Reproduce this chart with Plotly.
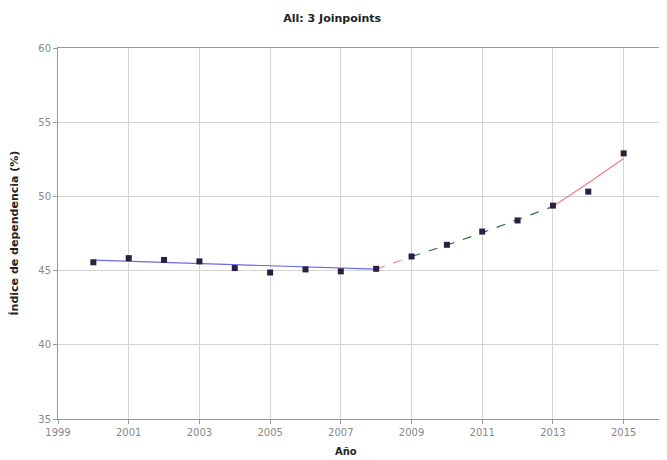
import plotly.graph_objects as go

years = list(range(2000, 2016))
observed = [45.56, 45.84, 45.72, 45.62, 45.17, 44.87, 45.08, 44.95, 45.12,
            45.95, 46.74, 47.63, 48.38, 49.38, 50.32, 52.9]

seg1_years = [2000, 2008]
seg1_fit = [45.7, 45.1]
seg2_years = [2008, 2009]
seg2_fit = [45.1, 45.95]
seg3_years = [2009, 2010, 2011, 2012, 2013]
seg3_fit = [45.95, 46.72, 47.55, 48.42, 49.32]
seg4_years = [2013, 2014, 2015]
seg4_fit = [49.32, 50.9, 52.55]

x_ticks = [1999, 2001, 2003, 2005, 2007, 2009, 2011, 2013, 2015]
y_ticks = [35, 40, 45, 50, 55, 60]

title_text = "All: 3 Joinpoints"
x_title = "Año"
y_title = "Índice de dependencia (%)"

fig = go.Figure()
fig.add_trace(go.Scatter(x=seg1_years, y=seg1_fit, mode="lines",
                         line=dict(color="#6a6ae8", width=1.2), showlegend=False))
fig.add_trace(go.Scatter(x=seg2_years, y=seg2_fit, mode="lines",
                         line=dict(color="#f08a9a", width=1.2, dash="dash"), showlegend=False))
fig.add_trace(go.Scatter(x=seg3_years, y=seg3_fit, mode="lines",
                         line=dict(color="#2e6b3a", width=1.2, dash="dash"), showlegend=False))
fig.add_trace(go.Scatter(x=seg4_years, y=seg4_fit, mode="lines",
                         line=dict(color="#f07a8a", width=1.2), showlegend=False))
fig.add_trace(go.Scatter(x=years, y=observed, mode="markers",
                         marker=dict(symbol="square", size=6, color="#2a1f3d"),
                         showlegend=False))

fig.update_layout(
    width=659, height=452,
    margin=dict(l=50, r=8, t=40, b=41, autoexpand=False),
    paper_bgcolor="white", plot_bgcolor="white",
    title=dict(text="<b>" + title_text + "</b>", x=0.492, xanchor="center",
               y=1 - 10 / 452, yanchor="middle",
               font=dict(family="DejaVu Sans", size=11, color="#222")),
    font=dict(family="DejaVu Sans", size=10, color="#666"),
    annotations=[
        dict(text="<b>" + x_title + "</b>", xref="paper", yref="paper",
             x=0.48, y=-32 / 371, xanchor="center", yanchor="middle", showarrow=False,
             font=dict(family="DejaVu Sans", size=10, color="#222")),
        dict(text="<b>" + y_title + "</b>", xref="paper", yref="paper",
             x=-44 / 601, y=0.5, xanchor="center", yanchor="middle", showarrow=False,
             textangle=-90,
             font=dict(family="DejaVu Sans", size=11, color="#222")),
    ],
)
fig.update_xaxes(range=[1999, 2016], tickvals=x_ticks, ticks="outside", ticklen=4,
                 tickcolor="#999", showgrid=True, gridcolor="#d4d4d4", gridwidth=1,
                 showline=True, linecolor="#999", linewidth=1, mirror=True,
                 zeroline=False, automargin=False,
                 tickfont=dict(size=10, color="#888"))
fig.update_yaxes(range=[35, 60], tickvals=y_ticks, ticks="outside", ticklen=4,
                 tickcolor="#999", showgrid=True, gridcolor="#d4d4d4", gridwidth=1,
                 showline=True, linecolor="#999", linewidth=1, mirror=True,
                 zeroline=False, automargin=False,
                 tickfont=dict(size=10, color="#888"))

fig.write_html("out.html")
